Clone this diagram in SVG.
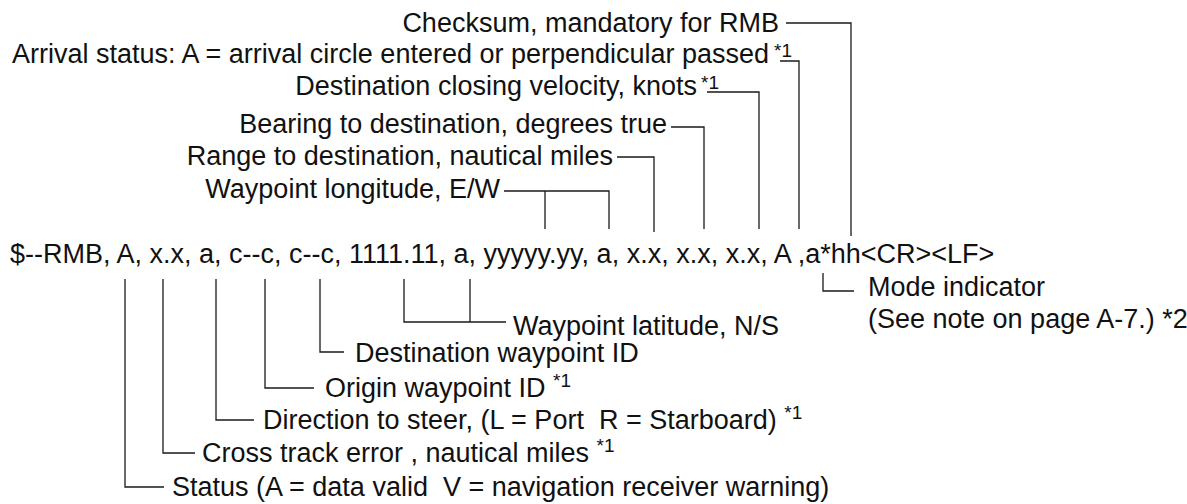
<svg xmlns="http://www.w3.org/2000/svg" width="1187" height="504" viewBox="0 0 1187 504">
<style>
text{font-family:"Liberation Sans",Arial,Helvetica,sans-serif;font-size:27px;fill:#111;white-space:pre}
.sup{font-size:19px}
.c{fill:none;stroke:#1a1a1a;stroke-width:1.3}
</style>
<rect width="1187" height="504" fill="#fff"/>
<g id="connectors">
<path class="c" d="M786 23H851V236"/>
<path class="c" d="M780 61H799V229"/>
<path class="c" d="M707 92H759V229"/>
<path class="c" d="M671 127H704V229"/>
<path class="c" d="M617 157H654V232"/>
<path class="c" d="M504 191H609V229M545 191V229"/>
<path class="c" d="M404 279V322H506M470 279V322"/>
<path class="c" d="M320 279V352H344"/>
<path class="c" d="M265 279V388H314"/>
<path class="c" d="M216 279V420H254"/>
<path class="c" d="M163 279V453H195"/>
<path class="c" d="M125 279V487H164"/>
<path class="c" d="M823 273V291H854"/>
</g>
<g id="sentence"><text x="10" y="263">$--RMB, A, x.x, a, c--c, c--c, 1111.11, a, yyyyy.yy, a, x.x, x.x, x.x, A ,a*hh&lt;CR&gt;&lt;LF&gt;</text></g>
<g id="checksum"><text x="779" y="32" text-anchor="end">Checksum, mandatory for RMB</text></g>
<g id="arrival"><text x="12" y="63">Arrival status: A = arrival circle entered or perpendicular passed</text><text class="sup" x="774" y="57">*1</text></g>
<g id="closing"><text x="697" y="95" text-anchor="end">Destination closing velocity, knots</text><text class="sup" x="701" y="89">*1</text></g>
<g id="bearing"><text x="667" y="133" text-anchor="end">Bearing to destination, degrees true</text></g>
<g id="range"><text x="613" y="165" text-anchor="end">Range to destination, nautical miles</text></g>
<g id="longitude"><text x="500" y="198" text-anchor="end">Waypoint longitude, E/W</text></g>
<g id="latitude"><text x="513" y="335">Waypoint latitude, N/S</text></g>
<g id="destination"><text x="355" y="362">Destination waypoint ID</text></g>
<g id="origin"><text x="325" y="397">Origin waypoint ID <tspan class="sup" dy="-10">*1</tspan></text></g>
<g id="direction"><text x="263" y="429">Direction to steer, (L = Port  R = Starboard) <tspan class="sup" dy="-10">*1</tspan></text></g>
<g id="crosstrack"><text x="202" y="462">Cross track error , nautical miles <tspan class="sup" dy="-10">*1</tspan></text></g>
<g id="status"><text x="172" y="496">Status (A = data valid  V = navigation receiver warning)</text></g>
<g id="mode"><text x="868" y="296">Mode indicator</text><text x="868" y="328">(See note on page A-7.) *2</text></g>
</svg>
